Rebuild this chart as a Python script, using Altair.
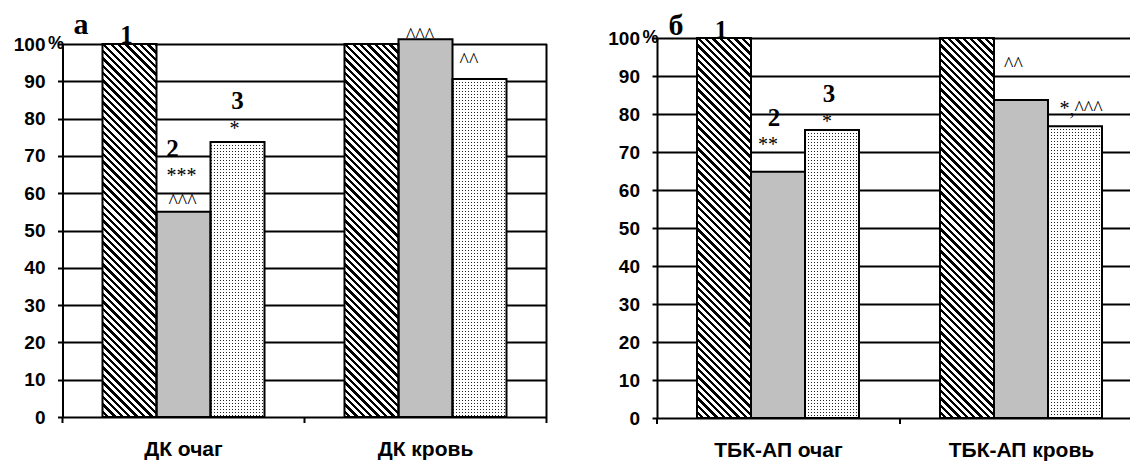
import altair as alt
import pandas as pd

# ---------------- data ----------------
SERIES = ["1", "2", "3"]

CATS_A = ["ДК очаг", "ДК кровь"]
A_OCHAG = [100, 55.0, 73.7]
A_KROV = [100, 101.3, 90.6]

CATS_B = ["ТБК-АП очаг", "ТБК-АП кровь"]
B_OCHAG = [100, 64.8, 75.8]
B_KROV = [100, 83.7, 76.8]

Y_TICKS = [0, 10, 20, 30, 40, 50, 60, 70, 80, 90, 100]

# group numbers above bars: text, category index, series, anchor value, dx
NUM_A_TEXT = ["1", "2", "3"]
NUM_A_CAT = [0, 0, 0]
NUM_A_SER = ["1", "2", "3"]
NUM_A_POS = [100.3, 69.7, 82.6]
NUM_A_DX = [-3, -11, 0]

SIG_A_TEXT = ["***", "^^^", "*", "^^^", "^^"]
SIG_A_CAT = [0, 0, 0, 1, 1]
SIG_A_SER = ["2", "2", "3", "2", "3"]
SIG_A_POS = [63.0, 56.0, 75.6, 100.5, 93.8]
SIG_A_DX = [-2, -1, -3, -5.5, -10.5]

NUM_B_TEXT = ["1", "2", "3"]
NUM_B_CAT = [0, 0, 0]
NUM_B_SER = ["1", "2", "3"]
NUM_B_POS = [100.0, 76.8, 83.2]
NUM_B_DX = [-3, -4, -3]

SIG_B_TEXT = ["**", "*", "^^", "*,^^^"]
SIG_B_CAT = [0, 0, 1, 1]
SIG_B_SER = ["2", "3", "2", "3"]
SIG_B_POS = [70.2, 76.3, 91.3, 79.7]
SIG_B_DX = [-10, -5, -7.5, 6]

# ---------------- style helpers ----------------
SANS = "Liberation Sans"
SERIF = "Liberation Serif"
BAR_W = 54.0
DOT_PERIOD = 3.0


def periodic_stops(n, frac, c_on, c_off):
    stops = []
    for k in range(n):
        a0 = round(k / n, 5)
        a1 = round((k + frac) / n, 5)
        a2 = round((k + 1) / n, 5)
        stops += [
            {"offset": a0, "color": c_on},
            {"offset": a1, "color": c_on},
            {"offset": a1, "color": c_off},
            {"offset": a2, "color": c_off},
        ]
    return stops


def hatch_gradient(h_px, w_px=BAR_W, period=7.3, frac=0.45):
    a = w_px / h_px
    s = (1 + a) / (1 + a * a)
    n = int(round((h_px + w_px) / period))
    return {
        "gradient": "linear",
        "x1": 1, "y1": 0, "x2": round(1 - a * s, 5), "y2": round(s, 5),
        "stops": periodic_stops(n, frac, "#000000", "#ffffff"),
    }


def dot_overlay(length_px, horizontal):
    """white layer with 1px transparent gaps every DOT_PERIOD px (exact px period)"""
    clear, white = "rgba(255,255,255,0)", "#ffffff"
    stops = []
    k = 0
    while k * DOT_PERIOD < length_px:
        a0 = min(1.0, k * DOT_PERIOD / length_px)
        a1 = min(1.0, (k * DOT_PERIOD + 1.0) / length_px)
        a2 = min(1.0, (k + 1) * DOT_PERIOD / length_px)
        stops += [
            {"offset": round(a0, 6), "color": clear},
            {"offset": round(a1, 6), "color": clear},
            {"offset": round(a1, 6), "color": white},
            {"offset": round(a2, 6), "color": white},
        ]
        k += 1
    return {"gradient": "linear", "x1": 0, "y1": 0,
            "x2": 0 if horizontal else 1, "y2": 1 if horizontal else 0,
            "stops": stops}


def make_panel(cats, rows, num, sig, letter, width, height, y_range, po,
               letter_x, letter_dy, pct_x, right_border):
    df = pd.DataFrame(
        [{"cat": c, "ser": s, "val": v}
         for c, vals in zip(cats, rows) for s, v in zip(SERIES, vals)]
    )
    px_per_unit = (y_range[0] - y_range[1]) / 100.0

    x_axis = alt.Axis(title=None, labelAngle=0, domain=False, ticks=False, tickSize=0,
                      grid=False, labelFont=SANS, labelFontSize=21,
                      labelFontWeight="bold", labelColor="black", labelPadding=21)
    y_axis = alt.Axis(title=None, values=Y_TICKS, grid=True, gridColor="black",
                      gridWidth=2, domainColor="black", domainWidth=2,
                      tickColor="black", tickWidth=2, tickSize=5,
                      labelFont=SANS, labelFontSize=19, labelFontWeight="bold",
                      labelColor="black", labelPadding=12.5)
    x_scale = alt.Scale(domain=cats, paddingInner=0, paddingOuter=0)
    xo_scale = alt.Scale(domain=SERIES, paddingInner=0, paddingOuter=po)
    y_scale = alt.Scale(domain=[0, 100], range=y_range, nice=False)

    X = alt.X("cat:N", sort=cats, scale=x_scale, axis=x_axis)
    XO = alt.XOffset("ser:N", sort=SERIES, scale=xo_scale)
    Y = alt.Y("val:Q", scale=y_scale, axis=y_axis)

    base = alt.Chart(df).encode(x=X, xOffset=XO, y=Y)
    layers = []
    # series 1: hatched
    layers.append(base.transform_filter(alt.datum.ser == "1").mark_bar(
        fill=hatch_gradient(100 * px_per_unit), strokeWidth=0))
    # series 2: grey
    layers.append(base.transform_filter(alt.datum.ser == "2").mark_bar(
        fill="#c0c0c0", strokeWidth=0))
    # series 3: dotted (dark base + two white grids with gaps)
    layers.append(base.transform_filter(alt.datum.ser == "3").mark_bar(
        fill="#222222", strokeWidth=0))
    layers.append(base.transform_filter(alt.datum.ser == "3").mark_bar(
        fill=dot_overlay(BAR_W, False), strokeWidth=0))
    for c, vals in zip(cats, rows):
        h = vals[2] * px_per_unit
        layers.append(base.transform_filter(
            (alt.datum.ser == "3") & (alt.datum.cat == c)).mark_bar(
            fill=dot_overlay(h, True), strokeWidth=0))
    # outlines
    layers.append(base.mark_bar(filled=False, stroke="black", strokeWidth=2))

    # annotations
    def ann_df(spec):
        t, ci, s, p, d = spec
        return pd.DataFrame({"txt": t, "cat": [cats[i] for i in ci], "ser": s,
                             "pos": p, "dx": d})

    YP = alt.Y("pos:Q", scale=y_scale, axis=y_axis)
    for spec, font, size, weight in [(num, SERIF, 25, "bold"), (sig, SERIF, 20, "normal")]:
        d = ann_df(spec)
        for i in range(len(d)):
            sub = d.iloc[[i]]
            layers.append(alt.Chart(sub).mark_text(
                font=font, fontSize=size, fontWeight=weight, color="black",
                baseline="alphabetic", align="center", dx=float(sub["dx"].iloc[0])
            ).encode(x=X, xOffset=XO, y=YP, text="txt:N"))

    one = pd.DataFrame({"k": [0]})
    # category boundary ticks below the baseline
    tick_df = pd.DataFrame({"cat": cats})
    layers.append(alt.Chart(tick_df).mark_rule(color="black", strokeWidth=2).encode(
        x=alt.X("cat:N", sort=cats, scale=x_scale, axis=x_axis, bandPosition=0),
        y=alt.value(y_range[0]), y2=alt.value(y_range[0] + 6)))
    if right_border:
        layers.append(alt.Chart(one).mark_rule(color="black", strokeWidth=2).encode(
            x=alt.value(width), y=alt.value(y_range[1]), y2=alt.value(y_range[0] + 6)))
    # "%" after 100
    layers.append(alt.Chart(one).mark_text(
        text="%", font=SANS, fontSize=18, fontWeight="bold", color="black",
        baseline="middle", align="center").encode(
        x=alt.value(pct_x), y=alt.value(y_range[1])))
    # panel letter
    layers.append(alt.Chart(one).mark_text(
        text=letter, font=SERIF, fontSize=30, fontWeight="bold", color="black",
        baseline="alphabetic", align="center", dy=letter_dy).encode(
        x=alt.value(letter_x), y=alt.value(y_range[1])))

    return alt.layer(*layers).properties(width=width, height=height)


panel_a = make_panel(CATS_A, [A_OCHAG, A_KROV],
                     (NUM_A_TEXT, NUM_A_CAT, NUM_A_SER, NUM_A_POS, NUM_A_DX),
                     (SIG_A_TEXT, SIG_A_CAT, SIG_A_SER, SIG_A_POS, SIG_A_DX),
                     "а", 484, 417, [417, 44], 0.7407,
                     18.5, -10, -6.5, True)
panel_b = make_panel(CATS_B, [B_OCHAG, B_KROV],
                     (NUM_B_TEXT, NUM_B_CAT, NUM_B_SER, NUM_B_POS, NUM_B_DX),
                     (SIG_B_TEXT, SIG_B_CAT, SIG_B_SER, SIG_B_POS, SIG_B_DX),
                     "б", 486, 418, [418, 38], 0.75,
                     19, -3, -6.5, False)

chart = alt.hconcat(panel_a, panel_b, spacing=110.5, bounds="flush").properties(
    autosize=alt.AutoSizeParams(type="none"),
    padding={"left": 62.5, "top": 0, "right": 1067.5, "bottom": 462},
    background="white",
).configure_view(stroke=None)

chart.save("out.html", embed_options={"renderer": "svg", "actions": False})
